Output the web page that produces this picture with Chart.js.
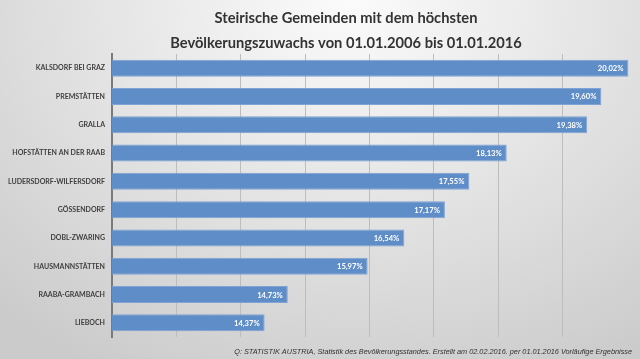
<!DOCTYPE html>
<html>
<head>
<meta charset="utf-8">
<script src="https://cdn.jsdelivr.net/npm/chart.js@4"></script>
<style>
html,body{margin:0;padding:0;}
body{width:640px;height:359px;overflow:hidden;
background:radial-gradient(ellipse 520px 420px at 350px 0px,#fbfbfb 0%,#e6e6e6 45%,#cbcbcb 100%);}
#wrap{position:relative;width:640px;height:359px;}
</style>
</head>
<body>
<div id="wrap"><canvas id="c" width="640" height="359"></canvas></div>
<script>
const titleLines = ["Steirische Gemeinden mit dem höchsten", "Bevölkerungszuwachs von 01.01.2006 bis 01.01.2016"];
const categories = ["KALSDORF BEI GRAZ","PREMSTÄTTEN","GRALLA","HOFSTÄTTEN AN DER RAAB","LUDERSDORF-WILFERSDORF","GÖSSENDORF","DOBL-ZWARING","HAUSMANNSTÄTTEN","RAABA-GRAMBACH","LIEBOCH"];
const values = [20.02, 19.60, 19.38, 18.13, 17.55, 17.17, 16.54, 15.97, 14.73, 14.37];
const sourceNote = "Q: STATISTIK AUSTRIA, Statistik des Bevölkerungsstandes. Erstellt am 02.02.2016. per 01.01.2016 Vorläufige Ergebnisse";

const fmt = v => v.toFixed(2).replace('.', ',') + '%';

const textPlugin = {
  id: 'texts',
  afterDatasetsDraw(chart) {
    const ctx = chart.ctx;
    const meta = chart.getDatasetMeta(0);
    ctx.save();
    ctx.font = 'bold 7.6px Lato';
    ctx.fillStyle = '#ffffff';
    ctx.textAlign = 'right';
    ctx.textBaseline = 'middle';
    meta.data.forEach((bar, i) => {
      ctx.fillText(fmt(values[i]), bar.x - 5, bar.y + 0.5);
    });
    ctx.restore();
  },
  afterDraw(chart) {
    const ctx = chart.ctx;
    ctx.save();
    ctx.font = 'bold 14.7px Lato';
    ctx.fillStyle = '#333333';
    ctx.textAlign = 'center';
    ctx.textBaseline = 'middle';
    ctx.fillText(titleLines[0], 346, 18);
    ctx.fillText(titleLines[1], 346, 43);
    ctx.font = 'italic 7.3px "Liberation Sans"';
    ctx.fillStyle = '#303030';
    ctx.textAlign = 'right';
    ctx.fillText(sourceNote, 632, 352);
    ctx.restore();
  }
};

new Chart(document.getElementById('c'), {
  type: 'bar',
  data: {
    labels: categories,
    datasets: [{
      data: values,
      backgroundColor: '#5f8dc8',
      borderColor: '#7ea3d4',
      borderWidth: 1,
      borderSkipped: 'left',
      categoryPercentage: 1.0,
      barPercentage: 0.6
    }]
  },
  options: {
    indexAxis: 'y',
    responsive: false,
    animation: false,
    layout: { padding: { left: 0, right: 0, top: 54, bottom: 22 } },
    plugins: {
      legend: { display: false },
      tooltip: { enabled: false },
      title: { display: false }
    },
    scales: {
      x: {
        min: 12,
        max: 20.2,
        ticks: { display: false, stepSize: 1 },
        grid: {
          drawTicks: false,
          color: ctx => (ctx.tick && ctx.tick.value > 12 && ctx.tick.value <= 20) ? '#bdbdbd' : 'rgba(0,0,0,0)',
          lineWidth: 1
        },
        border: { display: false },
        afterFit: s => { s.height = 0; }
      },
      y: {
        ticks: {
          color: '#404040',
          font: { family: 'Lato', size: 7, weight: 'bold' },
          padding: 7,
          autoSkip: false
        },
        grid: { display: false, drawTicks: false },
        border: { display: true, color: '#7a7a7a', width: 2 },
        afterFit: s => { s.width = 112; }
      }
    }
  },
  plugins: [textPlugin]
});
</script>
</body>
</html>
